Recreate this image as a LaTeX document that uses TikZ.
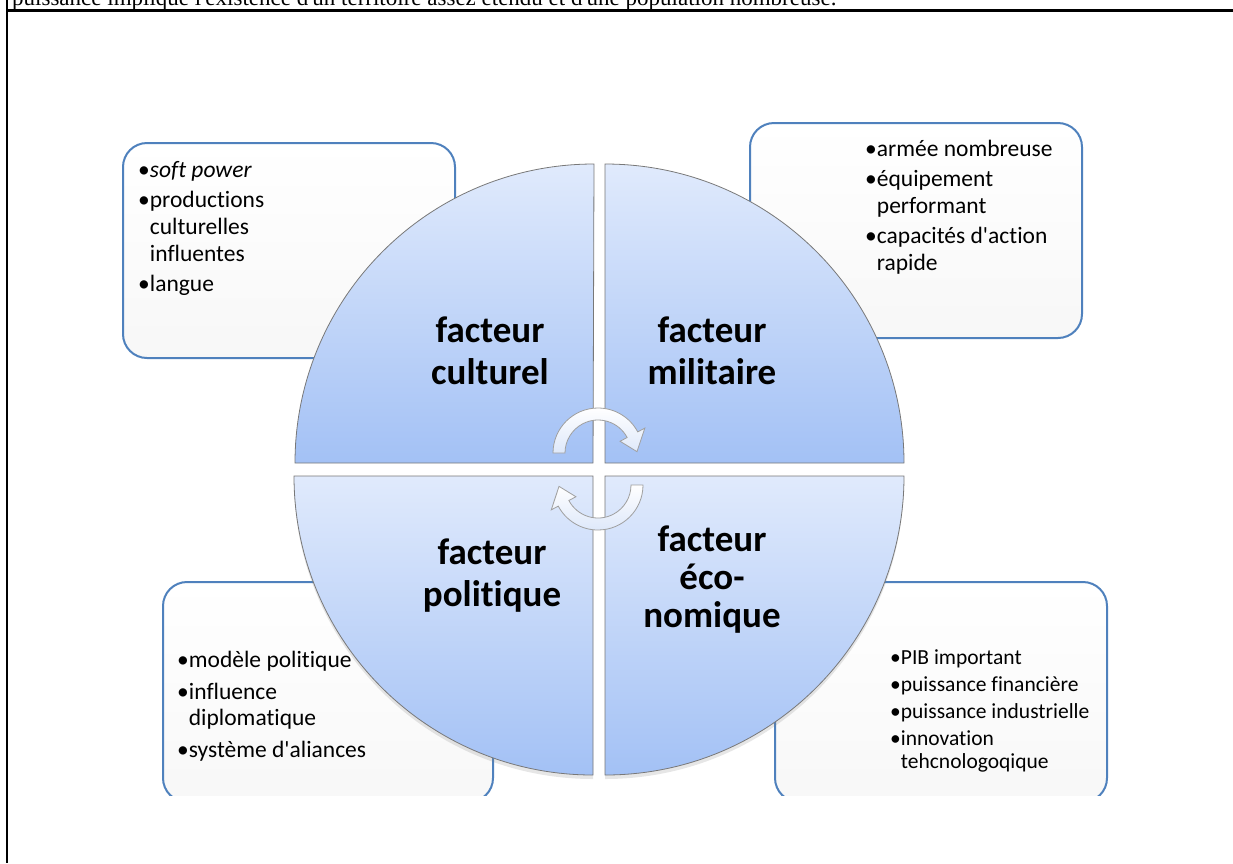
\documentclass[tikz,border=0pt]{standalone}
\usepackage{fontspec}
\setmainfont{Carlito}[Ligatures={NoCommon}]
\newfontfamily\titrefont{Liberation Serif}
\usepackage{tikz}
\usetikzlibrary{positioning,shadows}
\definecolor{bordbleu}{RGB}{79,129,189}
\definecolor{quadclair}{RGB}{224,234,252}
\definecolor{quadfonce}{RGB}{163,193,245}
\definecolor{quadtrait}{RGB}{120,120,120}
\definecolor{flecheclair}{RGB}{222,232,250}
\tikzstyle{boite} = [draw=bordbleu, line width=2pt, rounded corners=24pt, top color=white, bottom color=black!3]
\tikzstyle{quart} = [draw=quadtrait, line width=0.8pt, top color=quadclair, bottom color=quadfonce]
\tikzstyle{titre} = [font=\fontsize{37}{42}\selectfont\bfseries, align=center, inner sep=0pt]
\tikzstyle{liste} = [font=\fontsize{23.5}{27}\selectfont, align=left, anchor=north west, inner sep=0pt]
\tikzstyle{fleche} = [draw=gray!75, line width=0.8pt, top color=white, bottom color=flecheclair]

\begin{document}
\begin{tikzpicture}[x=1pt,y=-1pt]
    \useasboundingbox (0,0) rectangle (1233,863);
    % Cadre
    \draw[line width=3pt] (7,10) -- (1233,10);
    \draw[line width=2.5pt] (7,0) -- (7,863);
    \node[font=\titrefont\fontsize{23}{27}\selectfont, anchor=base west, inner sep=0pt] (phrase) at (12,5) {puissance implique l\textquotesingle existence d\textquotesingle un territoire assez étendu et d\textquotesingle une population nombreuse.};

    \begin{scope}
    \clip (9,12) rectangle (1233,795);
    % Encadrés
    \draw[boite] (123,143) rectangle (455,358);
    \draw[boite] (750,123) rectangle (1082,338);
    \draw[boite] (163,582) rectangle (493,802);
    \draw[boite] (775,582) rectangle (1107,802);

    % Quadrants
    \draw[quart] (593,463) -- (295,463) arc[start angle=180, end angle=270, radius=299] -- cycle;
    \draw[quart] (605,463) -- (605,164) arc[start angle=270, end angle=360, radius=299] -- cycle;
    \draw[quart, drop shadow={opacity=0.2, shadow xshift=0pt, shadow yshift=-4pt}] (593,476) -- (294,476) arc[start angle=180, end angle=90, radius=299] -- cycle;
    \draw[quart, drop shadow={opacity=0.2, shadow xshift=0pt, shadow yshift=-4pt}] (605,476) -- (904,476) arc[start angle=0, end angle=90, radius=299] -- cycle;
    \end{scope}

    % Flèches
    \coordinate (c1) at (598,453);
    \coordinate (c2) at (598,485);
    \draw[fleche] ([shift={(c1)}]180:45) arc[start angle=180, end angle=332, radius=45]
        -- ([shift={(c1)}]332:53) -- ([shift={(c1)}]358:39) -- ([shift={(c1)}]332:25)
        -- ([shift={(c1)}]332:33) arc[start angle=332, end angle=180, radius=33] -- cycle;
    \draw[fleche] ([shift={(c2)}]0:45) arc[start angle=0, end angle=152, radius=45]
        -- ([shift={(c2)}]152:53) -- ([shift={(c2)}]178:39) -- ([shift={(c2)}]152:25)
        -- ([shift={(c2)}]152:33) arc[start angle=152, end angle=0, radius=33] -- cycle;

    % Titres
    \node[titre] (culturel) at (490,351) {facteur\\culturel};
    \node[titre] (militaire) at (712,351) {facteur\\militaire};
    \node[titre] (politique) at (492,576) {facteur\\politique};
    \node[titre] (economique) at (712,580) {facteur\\[-4pt]éco-\\[-4pt]nomique};

    % Listes
    \node[liste] (lculturel) at (138,161) {•\textit{soft power}\\[3pt]•productions\\\phantom{•}culturelles\\\phantom{•}influentes\\[3pt]•langue};
    \node[liste] (lmilitaire) at (865,140) {•armée nombreuse\\[3pt]•équipement\\\phantom{•}performant\\[3pt]•capacités d\textquotesingle action\\\phantom{•}rapide};
    \node[liste, font=\fontsize{23.5}{26}\selectfont] (lpolitique) at (177,651) {•modèle politique\\[6pt]•influence\\\phantom{•}diplomatique\\[6pt]•système d\textquotesingle aliances};
    \node[liste, font=\fontsize{21.5}{23}\selectfont] (leconomique) at (890,649) {•PIB important\\[4pt]•puissance financière\\[4pt]•puissance industrielle\\[4pt]•innovation\\\phantom{•}tehcnologoqique};
\end{tikzpicture}
\end{document}
